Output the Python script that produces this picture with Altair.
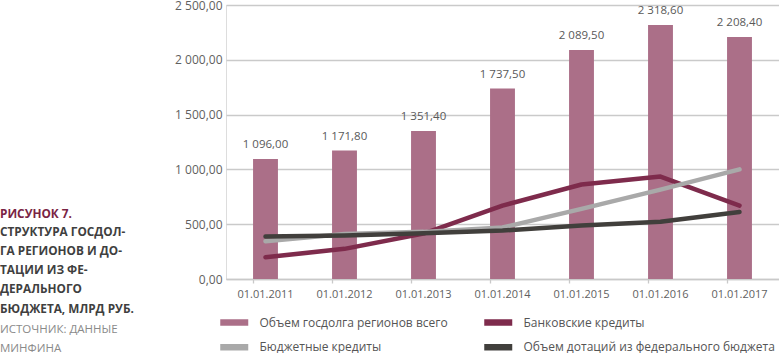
import altair as alt
import pandas as pd

# ---------------- data ----------------
dates = ["01.01.2011", "01.01.2012", "01.01.2013", "01.01.2014",
         "01.01.2015", "01.01.2016", "01.01.2017"]
total_debt = [1096.0, 1171.8, 1351.4, 1737.5, 2089.5, 2318.6, 2208.4]
bank_credits = [198, 275, 415, 670, 862, 935, 670]
budget_credits = [345, 410, 430, 470, 640, 815, 1000]
federal_transfers = [388, 398, 418, 442, 488, 522, 612]

name_debt = "Объем госдолга регионов всего"
name_bank = "Банковские кредиты"
name_budget = "Бюджетные кредиты"
name_transfers = "Объем дотаций из федерального бюджета"

# legend entries are laid out column by column
legend_order = [name_debt, name_budget, name_bank, name_transfers]
legend_colors = ["#ab6f88", "#a9a9a9", "#7e2b4c", "#413f3c"]

y_ticks = [0, 500, 1000, 1500, 2000, 2500]

caption_title = ["РИСУНОК 7."]
caption_bold = ["СТРУКТУРА ГОСДОЛ-", "ГА РЕГИОНОВ И ДО-", "ТАЦИИ ИЗ ФЕ-",
                "ДЕРАЛЬНОГО", "БЮДЖЕТА, МЛРД РУБ."]
caption_source = ["ИСТОЧНИК: ДАННЫЕ", "МИНФИНА"]

FONT = "Open Sans"

bar_df = pd.DataFrame({"date": dates, "value": total_debt, "series": name_debt})


def line_df(vals, name):
    return pd.DataFrame({"date": dates, "value": vals, "series": name})


x_enc = alt.X("date:N", sort=dates, title=None,
              scale=alt.Scale(paddingInner=0.685, paddingOuter=0.3425),
              axis=alt.Axis(labelAngle=0, bandPosition=0, tickSize=4,
                            tickColor="#c9c9c9", tickWidth=1.3,
                            domainColor="#c9c9c9", domainWidth=1.3,
                            labelPadding=5, labelFontSize=11, labelFont=FONT,
                            labelColor="#5f5f5f", grid=False))
y_enc = alt.Y("value:Q", title=None,
              scale=alt.Scale(domain=[0, 2500], nice=False),
              axis=alt.Axis(values=y_ticks, format=",.2f", domain=False, ticks=False,
                            labelPadding=4, labelFontSize=12, labelFont=FONT,
                            labelColor="#5f5f5f", gridColor="#cacaca", gridWidth=1.3))
color_enc = alt.Color("series:N", scale=alt.Scale(domain=legend_order, range=legend_colors),
                      legend=alt.Legend(title=None, orient="none", legendX=-3.25,
                                        legendY=305.75, columns=2, gridAlign="each",
                                        symbolType="M-1.75,0H1.75", symbolSize=256,
                                        symbolStrokeWidth=6.5, labelFontSize=12,
                                        labelFont=FONT, labelColor="#555555",
                                        columnPadding=23, rowPadding=-4,
                                        labelOffset=13.75, labelLimit=400))

bars = alt.Chart(bar_df).mark_bar().encode(x=x_enc, y=y_enc, color=color_enc)

bar_labels = alt.Chart(bar_df).mark_text(
    baseline="middle", dy=-14, fontSize=11.5, font=FONT, color="#595959"
).encode(x=alt.X("date:N", sort=dates), y="value:Q",
         text=alt.Text("value:Q", format=",.2f"))


def line_layer(vals, name):
    return alt.Chart(line_df(vals, name)).mark_line(
        strokeWidth=4.5, strokeCap="round", strokeJoin="round"
    ).encode(x=alt.X("date:N", sort=dates), y="value:Q", color=color_enc)


lines = [line_layer(bank_credits, name_bank),
         line_layer(budget_credits, name_budget),
         line_layer(federal_transfers, name_transfers)]

one = pd.DataFrame({"k": [0]})
cap_title = alt.Chart(one).mark_text(
    text=caption_title, align="left", baseline="middle", font=FONT, fontSize=11.8,
    fontWeight="bold", color="#7a2444"
).encode(x=alt.value(-226), y=alt.value(209))
cap_bold = alt.Chart(one).mark_text(
    text=caption_bold, align="left", baseline="middle", font=FONT, fontSize=11.8,
    fontWeight="bold", color="#3f3f3f", lineHeight=19.14
).encode(x=alt.value(-226), y=alt.value(227))
cap_source = alt.Chart(one).mark_text(
    text=caption_source, align="left", baseline="middle", font=FONT, fontSize=11.5,
    color="#8a8a8a", lineHeight=19.14
).encode(x=alt.value(-226), y=alt.value(324.6))

chart = alt.layer(bars, bar_labels, *lines, cap_title, cap_bold, cap_source).properties(
    width=553, height=274,
    autosize=alt.AutoSizeParams(type="none"),
    padding={"left": 226, "top": 5, "right": 0, "bottom": 74}
).configure_view(stroke=None).configure(
    locale={"number": {"decimal": ",", "thousands": "\u00a0", "grouping": [3],
                       "currency": ["", ""]}}
)

chart.save("out.html", embed_options={"renderer": "svg", "actions": False})
